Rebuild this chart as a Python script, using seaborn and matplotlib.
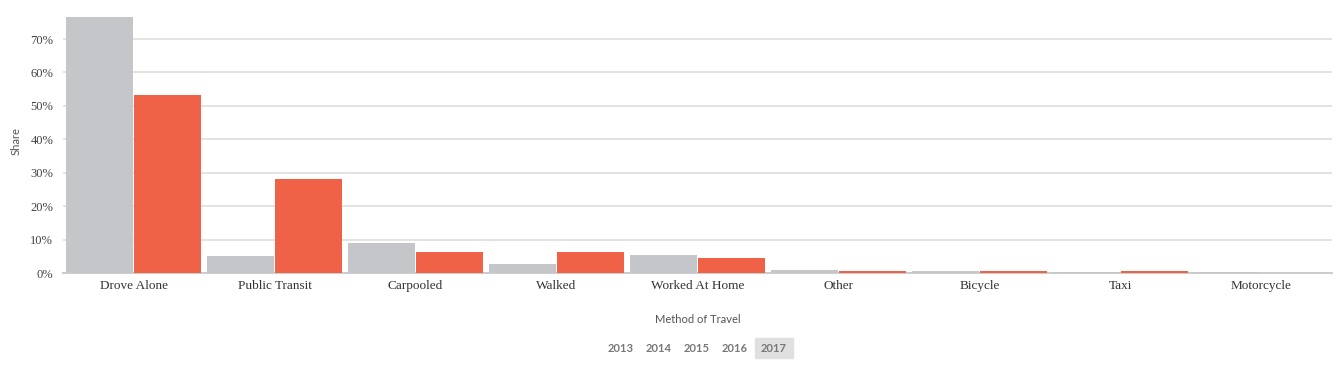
import pandas as pd
import matplotlib.pyplot as plt
import matplotlib.ticker as mticker
import seaborn as sns

# valeurs
methods = ["Drove Alone", "Public Transit", "Carpooled", "Walked", "Worked At Home",
           "Other", "Bicycle", "Taxi", "Motorcycle"]
share_gray = [0.766, 0.051, 0.090, 0.027, 0.054, 0.009, 0.006, 0.003, 0.003]
share_red = [0.532, 0.281, 0.063, 0.063, 0.045, 0.006, 0.006, 0.006, 0.0]
series = ["Comparison", "Selected"]
years = ["2013", "2014", "2015", "2016", "2017"]

df = pd.DataFrame({
    "Method of Travel": methods * 2,
    "Share": share_gray + share_red,
    "Series": [series[0]] * len(methods) + [series[1]] * len(methods),
})

sns.set_style("white")
# police serif pour les graduations, Lato donnée à la main pour le reste
plt.rcParams["font.family"] = ["Liberation Serif", "DejaVu Serif"]

fig = plt.figure(figsize=(13.38, 3.66), dpi=100)
ax = fig.add_axes([63 / 1338, 93 / 366, 1269 / 1338, 263 / 366])

sns.barplot(data=df, x="Method of Travel", y="Share", hue="Series",
            palette=["#c5c6c9", "#ef6248"], saturation=1, width=0.97, gap=0.015,
            linewidth=0, legend=False, ax=ax, zorder=3)

ax.set_ylim(0, 0.787)
ax.set_xlim(-0.5, len(methods) - 0.5)
ax.yaxis.set_major_locator(mticker.MultipleLocator(0.1))
ax.yaxis.set_major_formatter(mticker.PercentFormatter(1.0, decimals=0))
ax.grid(axis="y", color="#e3e3e3", linewidth=1.4, zorder=0)
ax.set_axisbelow(True)

for s in ["top", "right", "left"]:
    ax.spines[s].set_visible(False)
ax.spines["bottom"].set_color("#cccccc")
ax.spines["bottom"].set_linewidth(1.4)

ax.tick_params(axis="y", length=5, width=1.4, color="#e3e3e3", pad=2,
               labelsize=9, labelcolor="#444444")
ax.tick_params(axis="x", length=0, pad=5, labelsize=9.5, labelcolor="#333333")

ax.set_ylabel("Share", family="Lato", fontsize=8, color="#555555", labelpad=6)
ax.set_xlabel("Method of Travel", family="Lato", fontsize=8, color="#555555", labelpad=16)

# sélecteur d'années sous le graphique
xs = [621, 659, 697, 735, 774]
for yr, x in zip(years, xs):
    if yr == "2017":
        fig.patches.append(plt.Rectangle(((x - 19) / 1338, 8 / 366), 38 / 1338, 20 / 366,
                                         transform=fig.transFigure, color="#e0e0e0",
                                         zorder=0))
    fig.text(x / 1338, 18 / 366, yr, ha="center", va="center", family="Lato",
             fontsize=8, fontweight="bold", color="#777777")

fig.savefig("out.png", dpi=100)
